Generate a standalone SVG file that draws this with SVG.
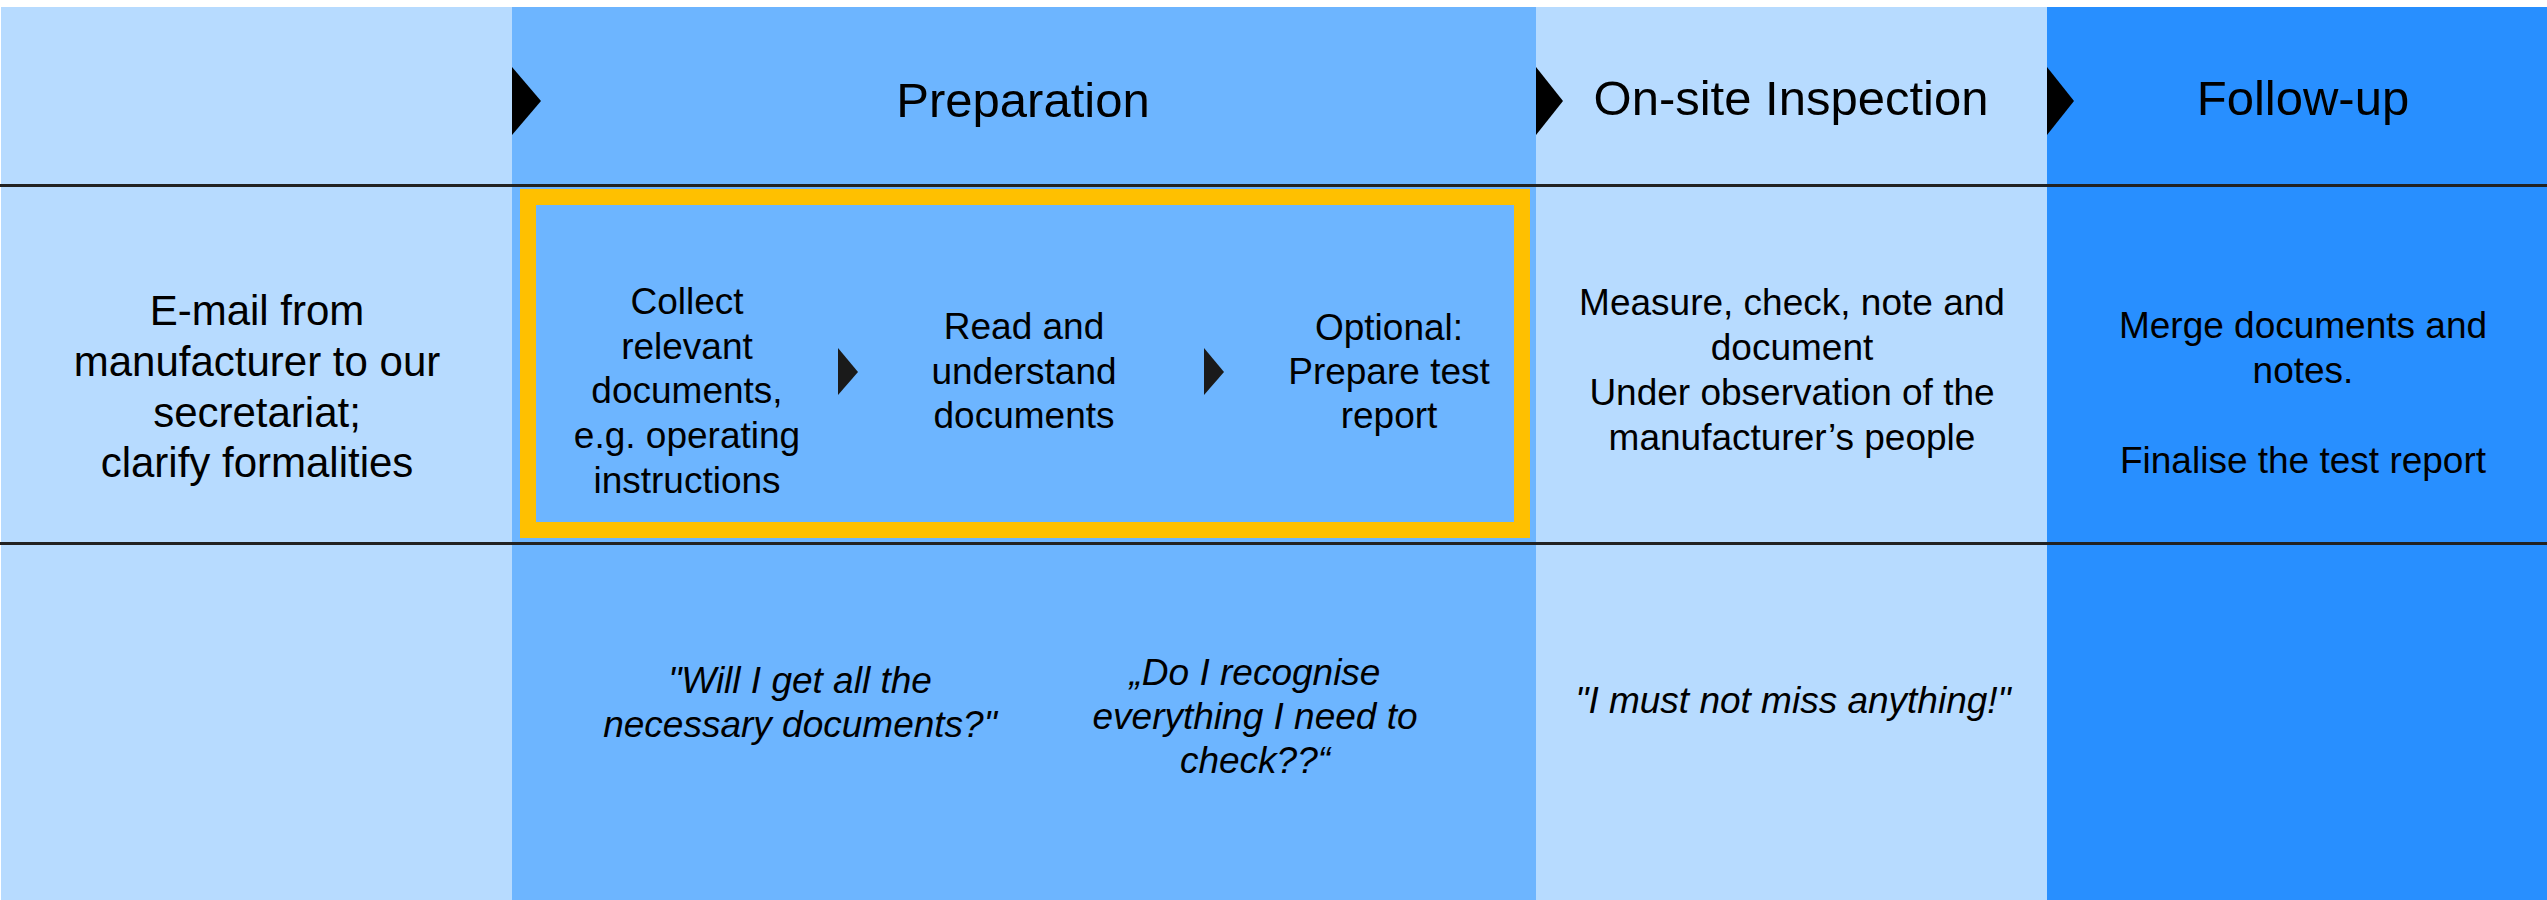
<svg xmlns="http://www.w3.org/2000/svg" width="2547" height="900" viewBox="0 0 2547 900">
<defs>
<style>
.t{font-family:"Liberation Sans",Arial,sans-serif;font-size:37px;fill:#000;text-anchor:middle}
.q{font-style:italic}
.hd{font-size:49px}
.big{font-size:42px}
.rule{stroke:#222;stroke-width:3}
.chev{fill:#000}
.step{fill:#1a1a1a}
</style>
</defs>
<rect x="0" y="0" width="2547" height="900" fill="#fff"/>
<g id="lanes">
<rect x="1" y="7" width="511" height="893" fill="#B7DBFF"/>
<rect x="512" y="7" width="1024" height="893" fill="#6DB5FF"/>
<rect x="1536" y="7" width="511" height="893" fill="#B7DBFF"/>
<rect x="2047" y="7" width="500" height="893" fill="#288FFF"/>
</g>
<g id="rules">
<line class="rule" x1="0" y1="185.5" x2="2547" y2="185.5"/>
<line class="rule" x1="0" y1="543.5" x2="2547" y2="543.5"/>
</g>
<g id="head-preparation">
<polygon class="chev" points="512,67 541,101 512,135"/>
<text class="t hd" x="1023" y="117">Preparation</text>
</g>
<g id="head-onsite">
<polygon class="chev" points="1536,67 1563,101 1536,135"/>
<text class="t hd" x="1791" y="115">On-site Inspection</text>
</g>
<g id="head-followup">
<polygon class="chev" points="2047,67 2074,101 2047,135"/>
<text class="t hd" x="2303" y="115">Follow-up</text>
</g>
<g id="highlight">
<rect x="528" y="197" width="994" height="333" fill="none" stroke="#FFC000" stroke-width="16"/>
</g>
<g id="node-email">
<text class="t big" x="257"><tspan x="257" y="325">E-mail from</tspan><tspan x="257" y="376">manufacturer to our</tspan><tspan x="257" y="427">secretariat;</tspan><tspan x="257" y="477">clarify formalities</tspan></text>
</g>
<g id="node-collect">
<text class="t" x="687"><tspan x="687" y="314">Collect</tspan><tspan x="687" y="359">relevant</tspan><tspan x="687" y="403">documents,</tspan><tspan x="687" y="448">e.g. operating</tspan><tspan x="687" y="493">instructions</tspan></text>
</g>
<g id="node-read">
<text class="t" x="1024"><tspan x="1024" y="339">Read and</tspan><tspan x="1024" y="384">understand</tspan><tspan x="1024" y="428">documents</tspan></text>
</g>
<g id="node-optional">
<text class="t" x="1389"><tspan x="1389" y="340">Optional:</tspan><tspan x="1389" y="384">Prepare test</tspan><tspan x="1389" y="428">report</tspan></text>
</g>
<g id="node-measure">
<text class="t" x="1792"><tspan x="1792" y="315">Measure, check, note and</tspan><tspan x="1792" y="360">document</tspan><tspan x="1792" y="405">Under observation of the</tspan><tspan x="1792" y="450">manufacturer’s people</tspan></text>
</g>
<g id="node-merge">
<text class="t" x="2303"><tspan x="2303" y="338">Merge documents and</tspan><tspan x="2303" y="383">notes.</tspan><tspan x="2303" y="473">Finalise the test report</tspan></text>
</g>
<g id="connectors">
<polygon class="step" points="838,348 858,372 838,395"/>
<polygon class="step" points="1204,348 1224,372 1204,395"/>
</g>
<g id="quote-1">
<text class="t q" x="800"><tspan x="800" y="693">"Will I get all the</tspan><tspan x="800" y="737">necessary documents?"</tspan></text>
</g>
<g id="quote-2">
<text class="t q" x="1255"><tspan x="1255" y="685">„Do I recognise</tspan><tspan x="1255" y="729">everything I need to</tspan><tspan x="1255" y="773">check??“</tspan></text>
</g>
<g id="quote-3">
<text class="t q" x="1793" y="713">"I must not miss anything!"</text>
</g>
</svg>
